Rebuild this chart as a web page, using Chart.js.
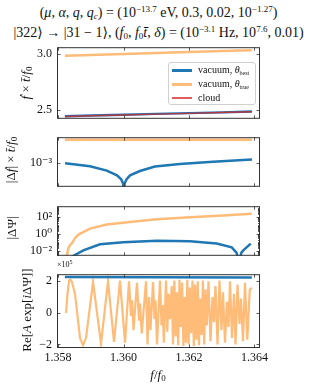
<!DOCTYPE html>
<html>
<head>
<meta charset="utf-8">
<script src="https://cdn.jsdelivr.net/npm/chart.js@4.4.0/dist/chart.umd.min.js"></script>
<style>
  html, body { margin: 0; padding: 0; background: #fff; }
  #wrap { position: relative; width: 317px; height: 389px; overflow: hidden;
          font-family: "Liberation Serif", "DejaVu Serif", serif; color: #111; }
  canvas.panel { position: absolute; left: 0; }
  .title { position: absolute; left: 0; width: 317px; text-align: center; font-size: 14px;
           white-space: nowrap; line-height: 14px; }
  sup { font-size: 9px; vertical-align: 5px; line-height: 0; }
  sub { font-size: 9px; vertical-align: -2px; line-height: 0; }
  .ylab { position: absolute; white-space: nowrap; font-size: 13px; line-height: 14px;
          transform: translate(-50%, -50%) rotate(-90deg); }
  #xlab { position: absolute; left: 158px; top: 375px; transform: translate(-50%, -50%);
          font-size: 13px; white-space: nowrap; }
  #offset { position: absolute; left: 57px; top: 260px; font-size: 8px; }
  #legend { position: absolute; left: 168px; top: 62px; width: 88px; height: 43px; box-sizing: border-box;
            border: 1px solid #d0d0d0; border-radius: 3px; background: rgba(255,255,255,0.85); }
  #legend .row { position: absolute; left: 0; height: 14px; line-height: 14px; font-size: 10px; white-space: nowrap; }
  #legend .sw { position: absolute; left: 3px; top: 6px; width: 20px; height: 2.5px; }
  #legend .tx { position: absolute; left: 29px; top: 0; }
  #legend sub { font-size: 6px; }
</style>
</head>
<body>
<div id="wrap">
  <div class="title" style="top:6px">(<i>μ</i>, <i>α</i>, <i>q</i>, <i>q</i><sub><i>c</i></sub>) = (10<sup>−13.7</sup> eV, 0.3, 0.02, 10<sup>−1.27</sup>)</div>
  <div class="title" style="top:26px">|322⟩ → |31 − 1⟩, (<i>f</i><sub>0</sub>, <i>f</i><sub>0</sub><i>t̄</i>, <i>δ</i>) = (10<sup>−3.1</sup> Hz, 10<sup>7.6</sup>, 0.01)</div>

  <canvas class="panel" id="c1"></canvas>
  <canvas class="panel" id="c2"></canvas>
  <canvas class="panel" id="c3"></canvas>
  <canvas class="panel" id="c4"></canvas>

  <div class="ylab" style="left:26px; top:83px"><i>ḟ</i> × <i>t̄</i>/<i>f</i><sub>0</sub></div>
  <div class="ylab" style="left:11px; top:160px">|Δ<i>ḟ</i>| × <i>t̄</i>/<i>f</i><sub>0</sub></div>
  <div class="ylab" style="left:12px; top:228px">|ΔΨ|</div>
  <div class="ylab" style="left:27px; top:310px">Re[<i>A</i> exp[<i>i</i>ΔΨ]]</div>
  <div id="xlab"><i>f</i>/<i>f</i><sub>0</sub></div>
  <div id="offset">×10<sup style="font-size:6px; vertical-align:3px">5</sup></div>

  <div id="legend">
    <div class="row" style="top:0px"><span class="sw" style="background:#1f77b4"></span><span class="tx">vacuum, <i>θ</i><sub>best</sub></span></div>
    <div class="row" style="top:14px"><span class="sw" style="background:#ffbb78"></span><span class="tx">vacuum, <i>θ</i><sub>true</sub></span></div>
    <div class="row" style="top:28px"><span class="sw" style="background:rgba(214,39,40,0.75); height:2px"></span><span class="tx">cloud</span></div>
  </div>
</div>

<script>
// ---------------------------------------------------------------------------
// Data
// ---------------------------------------------------------------------------

// common frequency axis f/f0
const xTicks = [1.358, 1.360, 1.362, 1.364];

// panel 1: fdot * tbar / f0
const p1Freq = [1.35821, 1.35900, 1.36000, 1.36100, 1.36200, 1.36300, 1.36392];
const p1VacBest = [2.444, 2.450, 2.457, 2.465, 2.472, 2.479, 2.486];
const p1VacTrue = [2.987, 2.994, 3.002, 3.011, 3.019, 3.028, 3.036];
const p1Cloud = [2.442, 2.448, 2.455, 2.463, 2.470, 2.477, 2.484];

// panel 2: |delta fdot| * tbar / f0
const p2TrueFreq = [1.35821, 1.36100, 1.36392];
const p2VacTrue = [0.553, 0.552, 0.552];
const p2BestFreq = [1.358214, 1.358977, 1.359490, 1.359800, 1.359930, 1.359990, 1.360010, 1.360030,
                    1.360090, 1.360200, 1.360500, 1.360960, 1.361725, 1.362733, 1.363924];
const p2VacBest = [8.6e-4, 3.7e-4, 1.1e-4, 3e-5, 1e-5, 3e-6, 1e-9, 3e-6,
                   1e-5, 3e-5, 1.0e-4, 3.5e-4, 6.7e-4, 1.3e-3, 2.3e-3];

// panel 3: |delta Psi|
const p3TrueFreq = [1.358214, 1.358275, 1.358314, 1.358366, 1.358418, 1.358520, 1.358620, 1.358977,
                    1.359487, 1.360046, 1.361014, 1.362030, 1.363038, 1.363914];
const p3VacTrue = [1e-4, 0.003, 0.02, 0.045, 0.07, 0.3, 0.8, 4, 12, 21, 50, 90, 145, 225];
const p3BestFreq = [1.358214, 1.358467, 1.358772, 1.359282, 1.359994, 1.361014, 1.362030,
                    1.362846, 1.363304, 1.363450, 1.363527, 1.363600, 1.363658, 1.363884];
const p3VacBest = [1e-4, 0.0025, 0.011, 0.058, 0.10, 0.155, 0.13,
                   0.072, 0.025, 0.006, 0.0005, 0.006, 0.011, 0.068];

// panel 4: Re[A exp(i delta Psi)], units of 1e5
const p4BestFreq = [1.35821, 1.36100, 1.36392];
const p4VacBest = [2.27, 2.26, 2.245];
const p4TrueFreq = [
  // clean chirp
  1.358244, 1.358290, 1.358336, 1.358382, 1.358427, 1.358519, 1.358672, 1.358763, 1.358855,
  1.359069, 1.359313, 1.359527, 1.359710, 1.359893, 1.360046,
  // faster, undersampled
  1.360168, 1.360229, 1.360260, 1.360305, 1.360412, 1.360473, 1.360504, 1.360556, 1.360687,
  1.360733, 1.360779, 1.360824, 1.360901, 1.360947, 1.360977, 1.361023, 1.361114, 1.361160,
  1.361197, 1.361230, 1.361298, 1.361337, 1.361377, 1.361420, 1.361472, 1.361511,
  // dense band
  1.361551, 1.361591, 1.361630, 1.361670, 1.361710, 1.361750, 1.361789, 1.361829, 1.361869,
  1.361908, 1.361948, 1.361988, 1.362027, 1.362067, 1.362107, 1.362147, 1.362186, 1.362226,
  1.362266, 1.362305, 1.362345, 1.362385, 1.362424, 1.362464, 1.362504, 1.362543,
  // right part
  1.362595, 1.362656, 1.362717, 1.362763, 1.362809, 1.362870, 1.362931, 1.362992, 1.363038,
  1.363099, 1.363160, 1.363206, 1.363252, 1.363313, 1.363374, 1.363420, 1.363481, 1.363542,
  1.363588, 1.363649, 1.363710, 1.363780, 1.363855, 1.363914
];
const p4VacTrue = [
  0.0, 1.2, 2.05, 2.1, 1.95, 1.2, -1.6, -2.05, -1.6,
  1.95, -1.95, 2.0, -1.85, 2.05, -1.9,
  2.0, -0.2, 0.8, -1.1, 1.9, -0.5, 0.6, -1.3, 2.0,
  -2.0, 1.0, -1.1, 1.95, -0.4, 0.8, -2.0, 2.05, -0.8,
  0.5, -1.9, 2.05, -1.2, 1.2, -0.4, 1.7, -2.0,
  2.05, -1.5, 1.3, -2.05, 2.1, -0.9, 1.9, -2.1, 1.0,
  -1.9, 2.1, -2.0, 1.6, -1.3, 2.05, -2.1, 1.8, -1.7,
  2.0, -2.05, 0.9, -1.4, 2.05, -2.0, 1.5, -0.8,
  2.0, -1.8, 1.0, -0.6, 1.7, -2.0, 2.05, -1.1, 1.3,
  -1.9, 0.7, -0.9, 2.0, -1.6, 1.2, -2.0, 1.8, -0.7,
  0.9, -1.8, 1.9, -1.7, 1.45, 1.6
];

// ---------------------------------------------------------------------------
// Styling helpers
// ---------------------------------------------------------------------------

const BLUE = "#1f77b4";
const ORANGE = "#ffbb78";
const RED = "rgba(214,39,40,0.8)";
const FONT = "'Liberation Serif', 'DejaVu Serif', serif";
const X_MIN = 1.357969;
const X_MAX = 1.364168;

function pts(xs, ys) {
    return xs.map((x, i) => ({ x, y: ys[i] }));
}

// Chart.js paints dataset 0 last, so list the top-most line first
function series(xs, ys, color, width) {
    return { data: pts(xs, ys), borderColor: color, borderWidth: width, pointRadius: 0, tension: 0, clip: 0 };
}

const SUP = { "-": "⁻", "0": "⁰", "1": "¹", "2": "²", "3": "³", "4": "⁴", "5": "⁵", "6": "⁶", "7": "⁷", "8": "⁸", "9": "⁹" };
function pow10(v) {
    const e = Math.round(Math.log10(v));
    return "10" + String(e).split("").map((c) => SUP[c]).join("");
}

function logMinors(lo, hi) {
    const out = [];
    for (let e = lo; e <= hi; e++) for (let k = 1; k <= 9; k++) out.push(k * Math.pow(10, e));
    return out;
}

// inward ticks on all four sides + frame, matplotlib style
const frameTicks = {
    id: "frameTicks",
    afterDatasetsDraw(chart, args, opts) {
        const { ctx, chartArea: a } = chart;
        const xs = chart.scales.x, ys = chart.scales.y;
        ctx.save();
        ctx.strokeStyle = "#333";
        ctx.lineWidth = 0.8;
        ctx.beginPath();
        xTicks.forEach((v) => {
            const p = Math.round(xs.getPixelForValue(v)) + 0.5;
            ctx.moveTo(p, a.bottom); ctx.lineTo(p, a.bottom - 3.5);
            ctx.moveTo(p, a.top); ctx.lineTo(p, a.top + 3.5);
        });
        const yMark = (v, len) => {
            const p = ys.getPixelForValue(v);
            if (p < a.top || p > a.bottom) return;
            const q = Math.round(p) + 0.5;
            ctx.moveTo(a.left, q); ctx.lineTo(a.left + len, q);
            ctx.moveTo(a.right, q); ctx.lineTo(a.right - len, q);
        };
        (opts.yMinor || []).forEach((v) => yMark(v, 2));
        (opts.yMajor || []).forEach((v) => yMark(v, 3.5));
        ctx.stroke();
        ctx.lineWidth = 1;
        ctx.strokeRect(a.left + 0.5, a.top + 0.5, a.right - a.left - 1, a.bottom - a.top - 1);
        ctx.restore();
    },
};

// ---------------------------------------------------------------------------
// Panel factory
// ---------------------------------------------------------------------------

function makePanel(id, cfg) {
    const canvas = document.getElementById(id);
    const padTop = 10;
    const xh = cfg.showX ? 389 - cfg.bottom : 0;
    const padBottom = cfg.showX ? 0 : 10;
    const h = cfg.bottom - cfg.top + padTop + xh + padBottom;
    canvas.width = 317;
    canvas.height = h;
    canvas.style.width = "317px";
    canvas.style.height = h + "px";
    canvas.style.top = cfg.top - padTop + "px";

    return new Chart(canvas, {
        type: "line",
        data: { datasets: cfg.datasets },
        options: {
            responsive: false,
            animation: false,
            devicePixelRatio: 1,
            layout: { padding: { top: padTop, right: 57, bottom: padBottom, left: 0 } },
            plugins: {
                legend: { display: false },
                tooltip: { enabled: false },
                frameTicks: { yMajor: cfg.yMajor, yMinor: cfg.yMinor },
            },
            scales: {
                x: {
                    type: "linear",
                    bounds: "data",
                    min: X_MIN,
                    max: X_MAX,
                    afterBuildTicks: (s) => { s.ticks = xTicks.map((v) => ({ value: v })); },
                    afterFit: (s) => { s.height = xh; },
                    grid: { display: false, drawTicks: false },
                    border: { display: false },
                    ticks: {
                        display: !!cfg.showX,
                        padding: 3,
                        maxRotation: 0,
                        autoSkip: false,
                        color: "#111",
                        font: { family: FONT, size: 12 },
                        callback: (v) => Number(v).toFixed(3),
                    },
                },
                y: {
                    type: cfg.yType,
                    bounds: "data",
                    min: cfg.yMin,
                    max: cfg.yMax,
                    afterBuildTicks: (s) => { s.ticks = cfg.yLabels.map((v) => ({ value: v })); },
                    afterFit: (s) => { s.width = 57; },
                    grid: { display: false, drawTicks: false },
                    border: { display: false },
                    ticks: {
                        padding: 5,
                        autoSkip: false,
                        color: "#111",
                        font: { family: FONT, size: 12 },
                        callback: cfg.yFmt,
                    },
                },
            },
        },
        plugins: [frameTicks],
    });
}

// ---------------------------------------------------------------------------
// Panels
// ---------------------------------------------------------------------------

makePanel("c1", {
    top: 45, bottom: 121,
    yType: "linear", yMin: 2.421, yMax: 3.063,
    yLabels: [2.5, 3.0], yMajor: [2.5, 3.0],
    yFmt: (v) => Number(v).toFixed(1),
    datasets: [
        series(p1Freq, p1Cloud, RED, 1.4),
        series(p1Freq, p1VacBest, BLUE, 2.4),
        series(p1Freq, p1VacTrue, ORANGE, 2.5),
    ],
});

makePanel("c2", {
    top: 135, bottom: 189,
    yType: "logarithmic", yMin: 1.29e-6, yMax: 1.107,
    yLabels: [1e-3], yMajor: [1e-3],
    yFmt: (v) => pow10(v),
    datasets: [
        series(p2BestFreq, p2VacBest, BLUE, 2.5),
        series(p2TrueFreq, p2VacTrue, ORANGE, 2.5),
    ],
});

makePanel("c3", {
    top: 204, bottom: 258,
    yType: "logarithmic", yMin: 2.54e-3, yMax: 1750,
    yLabels: [1e-2, 1, 1e2], yMajor: [1e-2, 1, 1e2], yMinor: logMinors(-3, 3),
    yFmt: (v) => pow10(v),
    datasets: [
        series(p3BestFreq, p3VacBest, BLUE, 2.5),
        series(p3TrueFreq, p3VacTrue, ORANGE, 2.5),
    ],
});

makePanel("c4", {
    top: 272, bottom: 348, showX: true,
    yType: "linear", yMin: -2.23, yMax: 2.45,
    yLabels: [-2, 0, 2], yMajor: [-2, 0, 2],
    yFmt: (v) => (v < 0 ? "−" + Math.abs(v) : String(v)),
    datasets: [
        series(p4BestFreq, p4VacBest, BLUE, 2.5),
        series(p4TrueFreq, p4VacTrue, ORANGE, 2.2),
    ],
});
</script>
</body>
</html>
